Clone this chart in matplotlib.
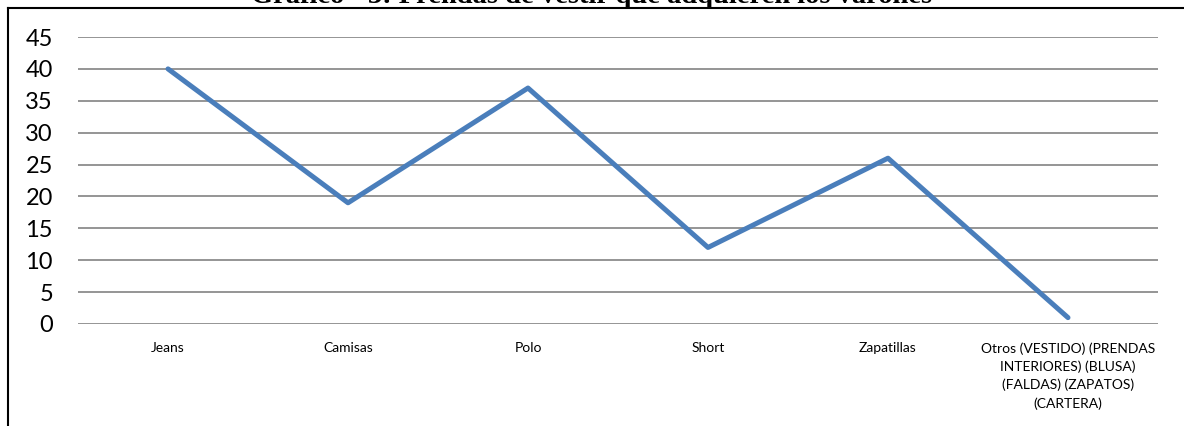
import matplotlib.pyplot as plt
from matplotlib.lines import Line2D

categories = [
    "Jeans",
    "Camisas",
    "Polo",
    "Short",
    "Zapatillas",
    "Otros (VESTIDO) (PRENDAS\nINTERIORES) (BLUSA)\n(FALDAS) (ZAPATOS)\n(CARTERA)",
]
values = [40, 19, 37, 12, 26, 1]
yticks = [0, 5, 10, 15, 20, 25, 30, 35, 40, 45]
title = "Gráfico - 3: Prendas de vestir que adquieren los varones"

W, H = 1184, 426
fig = plt.figure(figsize=(W / 100, H / 100), dpi=100)
ax = fig.add_axes([78 / W, 1 - 324 / H, (1158 - 78) / W, (324 - 37) / H])

x = list(range(len(categories)))
ax.plot(x, values, color="#4A7EBB", linewidth=3.6, solid_capstyle="round",
        solid_joinstyle="round", zorder=3)

ax.set_xlim(-0.5, len(categories) - 0.5)
ax.set_ylim(0, 45)
ax.set_yticks(yticks)
ax.set_xticks(x)
ax.set_xticklabels(categories, fontsize=10, family="Lato", linespacing=1.55)
for lab in ax.get_yticklabels():
    lab.set_fontfamily("Lato")
    lab.set_fontsize(17)
ax.tick_params(axis="y", length=0, pad=18)
ax.tick_params(axis="x", length=0, pad=13)
ax.yaxis.grid(True, color="#8C8C8C", linewidth=1.3)
ax.set_axisbelow(True)
for s in ax.spines.values():
    s.set_visible(False)

# outer frame of the chart area
fig.add_artist(Line2D([8 / W, 8 / W], [0, 1 - 8 / H], color="black", linewidth=1.5))
fig.add_artist(Line2D([8 / W, 1], [1 - 8 / H, 1 - 8 / H], color="black", linewidth=1.5))

fig.text(0.5, 1 - 3 / H, title, ha="center", va="baseline",
         family="Liberation Serif", fontweight="bold", fontsize=20.5)

fig.savefig("out.png", dpi=100)
